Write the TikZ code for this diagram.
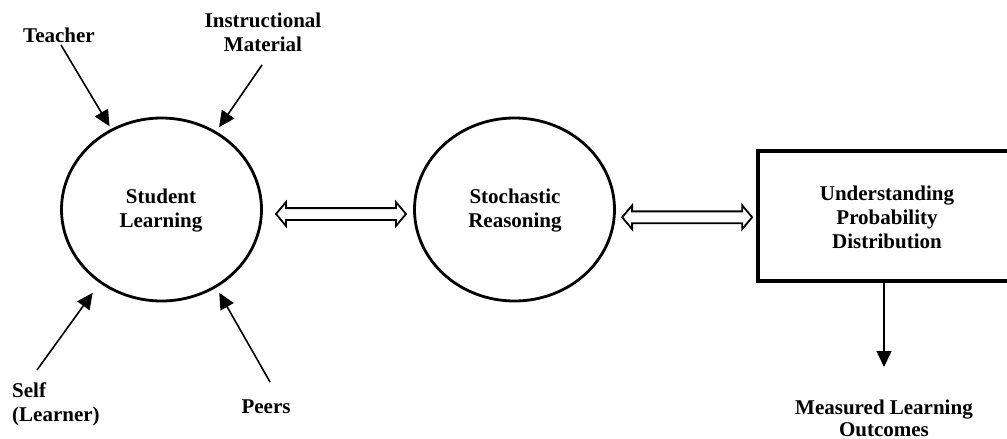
\documentclass[tikz,border=0pt]{standalone}
\usepackage{fontspec}
\setmainfont{Liberation Serif}
\usetikzlibrary{shapes.geometric,shapes.arrows,arrows.meta,calc}
\begin{document}
\begin{tikzpicture}[x=1pt,y=-1pt,
  txt/.style={font=\fontsize{21}{24}\selectfont\bfseries, inner sep=0pt, align=center},
  bubble/.style={ellipse, draw, line width=2.8pt, minimum width=200pt, minimum height=183pt, inner sep=0pt},
  boxnode/.style={rectangle, draw, line width=3.2pt, minimum width=258pt, minimum height=130pt, inner sep=0pt},
  inarrow/.style={line width=1.6pt, -{Triangle[length=16pt,width=15pt]}},
  dbl/.style={double arrow, draw, line width=1.8pt, fill=white, minimum height=130pt,
    inner xsep=0pt, inner ysep=5pt, double arrow head extend=6pt, double arrow tip angle=100}]
\clip (0,0) rectangle (1007,439);
\fill[white] (0,0) rectangle (1007,439);

% main nodes
\node[bubble] (sl) at (161.5,209.5) {};
\node[txt] at (161,211) {Student\\Learning};
\node[bubble] (sr) at (514.5,209.5) {};
\node[txt] at (515,211) {Stochastic\\Reasoning};
\node[boxnode] (upd) at (887,216) {};
\node[txt] at (887,217) {Understanding\\Probability\\Distribution};

% influence labels
\node[txt] (teacher) at (59,35) {Teacher};
\node[txt] (instr) at (263,32) {Instructional\\Material};
\node[txt, align=left, anchor=west] (self) at (12,404) {Self\\(Learner)};
\node[txt] (peers) at (266,407) {Peers};
\node[txt, font=\fontsize{21}{22}\selectfont\bfseries] (mlo) at (884,418) {Measured Learning\\Outcomes};

% arrow start points
\coordinate (tS) at (61,45);
\coordinate (iS) at (262,65);
\coordinate (sS) at (37,370);
\coordinate (pS) at (270,382);
\coordinate (mT) at (884,367);

\draw[inarrow, shorten >=3pt] (tS) -- (sl.122.5);
\draw[inarrow, shorten >=5pt] (iS) -- (sl.55.6);
\draw[inarrow, shorten >=12pt] (sS) -- (sl.230.6);
\draw[inarrow, shorten >=6pt] (pS) -- (sl.-55.9);
\draw[inarrow] (upd.south -| mT) -- (mT);

% double arrows
\node[dbl] (d1) at ($(sl.east)!0.5!(sr.west)+(3,4.5)$) {};
\node[dbl] (d2) at ($(sr.east)!0.5!(upd.west)+(1,4.5)$) {};
\end{tikzpicture}
\end{document}
